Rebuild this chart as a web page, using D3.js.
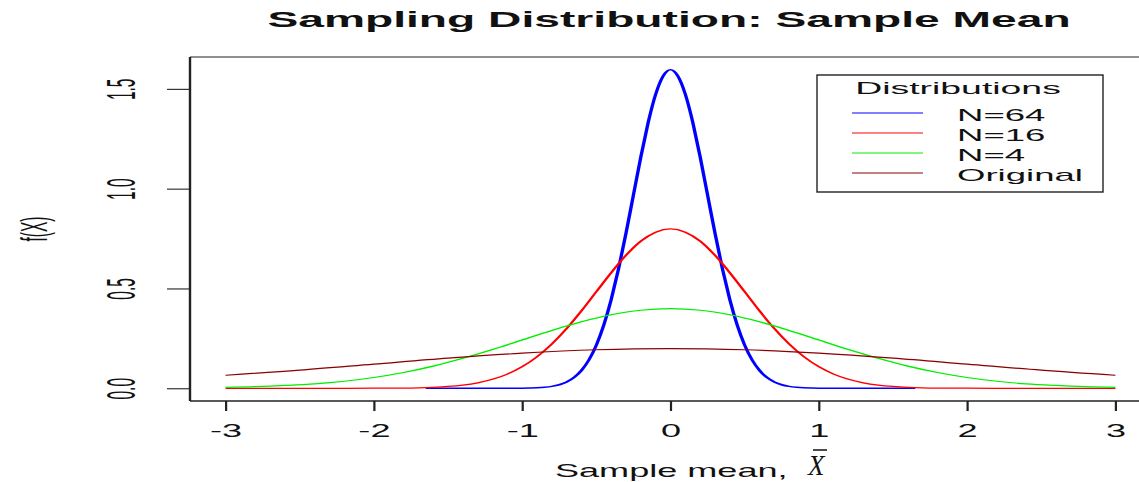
<!DOCTYPE html>
<html>
<head>
<meta charset="utf-8">
<script src="https://cdn.jsdelivr.net/npm/d3@7"></script>
<style>
  body { margin: 0; background: #fff; }
  text { font-family: "Liberation Sans", Arial, sans-serif; fill: #111; }
</style>
</head>
<body>
<div id="chart"></div>
<script>

// chart size and plot box
const width = 1139;
const height = 482;
const margin = {left: 190, right: -12, top: 57, bottom: 81};
// the picture is stretched sideways, so steep strokes look wider
const stretch = 2.2;

// series names and colours
const seriesNames = ["N=64", "N=16", "N=4", "Original"];
const seriesColors = ["#0000ff", "#ff0000", "#00ee00", "#8b0000"];

// N=64 curve
const blueX = [-1.65, -1.00, -0.95, -0.90, -0.85, -0.80, -0.75, -0.70, -0.65, -0.60, -0.55,
  -0.50, -0.45, -0.40, -0.35, -0.30, -0.25, -0.20, -0.15, -0.10, -0.05, 0.00,
  0.05, 0.10, 0.15, 0.20, 0.25, 0.30, 0.35, 0.40, 0.45, 0.50, 0.55, 0.60, 0.65,
  0.70, 0.75, 0.80, 0.85, 0.90, 0.95, 1.00, 1.65];
const blueY = [0, 0.0005, 0.0012, 0.0024, 0.0049, 0.0095, 0.0177, 0.0317, 0.0543, 0.0896, 0.142,
  0.216, 0.316, 0.444, 0.599, 0.777, 0.968, 1.159, 1.333, 1.473, 1.564, 1.596,
  1.564, 1.473, 1.333, 1.159, 0.968, 0.777, 0.599, 0.444, 0.316, 0.216, 0.142, 0.0896, 0.0543,
  0.0317, 0.0177, 0.0095, 0.0049, 0.0024, 0.0012, 0.0005, 0];

// N=16 curve
const redX = [-3.0, -2.2, -2.0, -1.9, -1.8, -1.7, -1.6, -1.5, -1.4, -1.3, -1.2, -1.1,
  -1.0, -0.9, -0.8, -0.7, -0.6, -0.5, -0.4, -0.3, -0.2, -0.1, 0.0,
  0.1, 0.2, 0.3, 0.4, 0.5, 0.6, 0.7, 0.8, 0.9, 1.0, 1.1, 1.2, 1.3, 1.4,
  1.5, 1.6, 1.7, 1.8, 1.9, 2.0, 2.2, 3.0];
const redY = [0, 0, 0.0003, 0.0006, 0.0012, 0.0025, 0.0048, 0.0089, 0.0158, 0.0272, 0.0448, 0.0709,
  0.108, 0.158, 0.222, 0.299, 0.388, 0.484, 0.579, 0.666, 0.737, 0.782, 0.798,
  0.782, 0.737, 0.666, 0.579, 0.484, 0.388, 0.299, 0.222, 0.158, 0.108, 0.0709, 0.0448, 0.0272, 0.0158,
  0.0089, 0.0048, 0.0025, 0.0012, 0.0006, 0.0003, 0, 0];

// N=4 curve
const greenX = [-3.0, -2.8, -2.6, -2.4, -2.2, -2.0, -1.8, -1.6, -1.4, -1.2, -1.0, -0.8, -0.6, -0.4, -0.2,
  0.0, 0.2, 0.4, 0.6, 0.8, 1.0, 1.2, 1.4, 1.6, 1.8, 2.0, 2.2, 2.4, 2.6, 2.8, 3.0];
const greenY = [0.004, 0.008, 0.014, 0.022, 0.035, 0.054, 0.079, 0.111, 0.150, 0.194, 0.242, 0.290, 0.333, 0.368, 0.391,
  0.399, 0.391, 0.368, 0.333, 0.290, 0.242, 0.194, 0.150, 0.111, 0.079, 0.054, 0.035, 0.022, 0.014, 0.008, 0.004];

// original distribution
const origX = [-3.0, -2.5, -2.0, -1.5, -1.0, -0.5, 0.0, 0.5, 1.0, 1.5, 2.0, 2.5, 3.0];
const origY = [0.065, 0.091, 0.121, 0.151, 0.176, 0.193, 0.199, 0.193, 0.176, 0.151, 0.121, 0.091, 0.065];

// ticks
const xTicks = [-3, -2, -1, 0, 1, 2, 3];
const yTicks = [0, 0.5, 1, 1.5];
const yTickLabels = ["0.0", "0.5", "1.0", "1.5"];

const series = [
  {name: seriesNames[0], color: seriesColors[0], xs: blueX, ys: blueY, w: 1.55},
  {name: seriesNames[1], color: seriesColors[1], xs: redX, ys: redY, w: 1.25},
  {name: seriesNames[2], color: seriesColors[2], xs: greenX, ys: greenY, w: 1.2},
  {name: seriesNames[3], color: seriesColors[3], xs: origX, ys: origY, w: 1.2}
];

const svg = d3.select("#chart")
  .append("svg")
  .attr("width", width)
  .attr("height", height);

// R style limits: data range plus 4% each side
const xScale = d3.scaleLinear()
  .domain([-3.24, 3.24])
  .range([margin.left, width - margin.right]);

const yScale = d3.scaleLinear()
  .domain([-0.0638, 1.6596])
  .range([height - margin.bottom, margin.top]);

// curves, drawn in a squeezed frame then stretched back
const curveG = svg.append("g")
  .attr("transform", `scale(${stretch},1)`);

const line = d3.line()
  .x(d => xScale(d[0]) / stretch)
  .y(d => yScale(d[1]))
  .curve(d3.curveMonotoneX);

series.forEach(s => {
  curveG.append("path")
    .datum(s.xs.map((v, i) => [v, s.ys[i]]))
    .attr("fill", "none")
    .attr("stroke", s.color)
    .attr("stroke-width", s.w)
    .attr("d", line);
});

// box round the plot
const x0 = margin.left, x1 = width - margin.right;
const y0 = margin.top, y1 = height - margin.bottom;
svg.append("line").attr("x1", x0).attr("x2", x1).attr("y1", y0).attr("y2", y0)
  .attr("stroke", "#222").attr("stroke-width", 1.1);
svg.append("line").attr("x1", x0).attr("x2", x1).attr("y1", y1).attr("y2", y1)
  .attr("stroke", "#222").attr("stroke-width", 1.5);
svg.append("line").attr("x1", x0).attr("x2", x0).attr("y1", y0).attr("y2", y1)
  .attr("stroke", "#222").attr("stroke-width", 2.4);

// x axis
const xAxis = svg.append("g")
  .attr("transform", `translate(0,${y1})`)
  .call(d3.axisBottom(xScale).tickValues(xTicks).tickSize(10).tickFormat(d => d < 0 ? "-" + Math.abs(d) : d));
xAxis.select(".domain").remove();
xAxis.selectAll(".tick line").attr("stroke", "#222").attr("stroke-width", 2.2);
xAxis.selectAll(".tick text")
  .attr("y", null).attr("dy", null)
  .attr("transform", "translate(0,36) scale(1.95,1)")
  .attr("font-size", 18.5)
  .style("fill", "#111");

// y axis
const yAxis = svg.append("g")
  .attr("transform", `translate(${x0},0)`)
  .call(d3.axisLeft(yScale).tickValues(yTicks).tickSize(23).tickFormat((d, i) => yTickLabels[i]));
yAxis.select(".domain").remove();
yAxis.selectAll(".tick line").attr("stroke", "#222").attr("stroke-width", 1.1);
yAxis.selectAll(".tick text")
  .attr("x", null).attr("dy", null)
  .attr("text-anchor", "middle")
  .attr("transform", "translate(-55,0) rotate(-90) scale(1,2.6)")
  .attr("font-size", 15.5)
  .style("fill", "#111");

// title
svg.append("text")
  .attr("text-anchor", "middle")
  .attr("font-weight", "bold")
  .attr("font-size", 22)
  .attr("transform", "translate(669,27) scale(2.1,1)")
  .text("Sampling Distribution: Sample Mean");

// axis titles
svg.append("text")
  .attr("font-size", 18.5)
  .attr("transform", "translate(555,477) scale(1.95,1)")
  .text("Sample mean,");
svg.append("text")
  .attr("font-style", "italic")
  .attr("font-size", 30)
  .attr("transform", "translate(808,475) scale(0.9,1)")
  .style("font-family", "'Liberation Serif', serif")
  .text("X");
svg.append("line")
  .attr("x1", 813).attr("x2", 827).attr("y1", 450).attr("y2", 450)
  .attr("stroke", "#111").attr("stroke-width", 1.5);

svg.append("text")
  .attr("text-anchor", "middle")
  .attr("font-size", 15.5)
  .attr("transform", `translate(47,${(y0 + y1) / 2}) rotate(-90) scale(1,2.43)`)
  .text("f(X)");

// legend
const legend = svg.append("g");
legend.append("rect")
  .attr("x", 817).attr("y", 75).attr("width", 286).attr("height", 117)
  .attr("fill", "#fff").attr("stroke", "#222").attr("stroke-width", 1.4);
legend.append("text")
  .attr("text-anchor", "middle")
  .attr("font-size", 17)
  .attr("transform", "translate(958,94) scale(2.2,1)")
  .text("Distributions");
series.forEach((s, i) => {
  const ly = 113 + i * 20;
  legend.append("line")
    .attr("x1", 852).attr("x2", 923).attr("y1", ly).attr("y2", ly)
    .attr("stroke", s.color).attr("stroke-width", 1);
  legend.append("text")
    .attr("font-size", 17)
    .attr("transform", `translate(957,${ly + 8}) scale(2.15,1)`)
    .text(s.name);
});

</script>
</body>
</html>
